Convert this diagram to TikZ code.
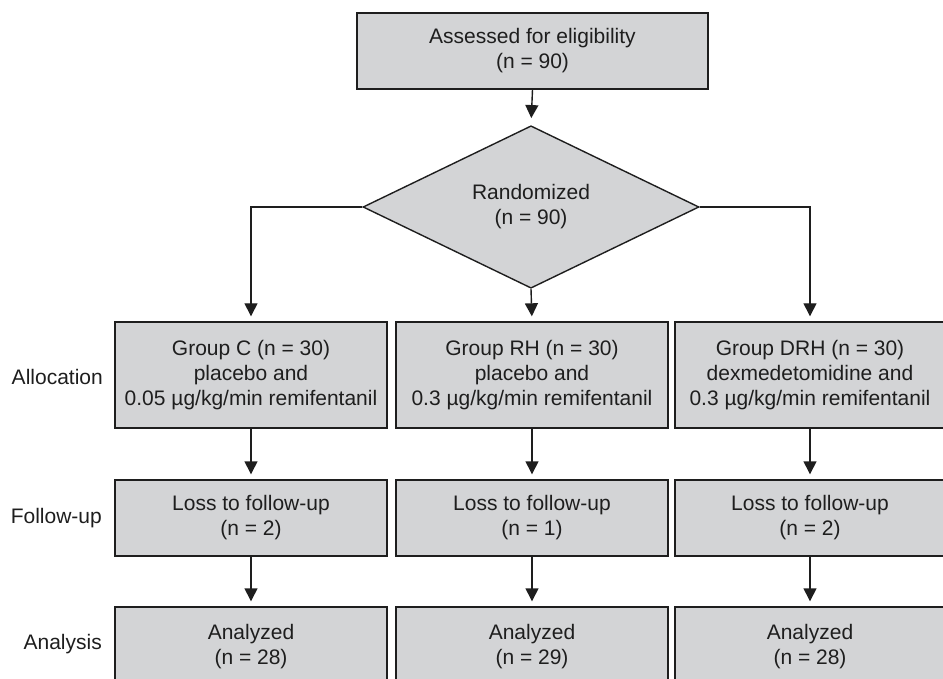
\documentclass[tikz,border=0pt]{standalone}
\usepackage{fontspec}
\setmainfont{Liberation Sans}
\usetikzlibrary{shapes.geometric,arrows.meta}
\definecolor{boxgray}{RGB}{211,212,214}
\definecolor{inkc}{RGB}{30,30,30}
\begin{document}
\begin{tikzpicture}[x=1pt,y=-1pt,
  font=\fontsize{21}{25}\selectfont,
  box/.style={draw=inkc,fill=boxgray,line width=1.4pt,align=center,inner sep=0pt,text=inkc},
  lab/.style={anchor=east,text=inkc,inner sep=0pt},
  arr/.style={line width=1.4pt,draw=inkc,-{Triangle[width=13pt,length=13pt]},shorten >=5pt}]
\useasboundingbox (0,0) rectangle (943,679);
\clip (0,0) rectangle (943,679);
\node[box,minimum width=351pt,minimum height=76pt] (top) at (532.5,51) {Assessed for eligibility\\(n = 90)};
\node[box,shape=diamond,minimum width=336pt,minimum height=127pt] (dia) at (531,207) {Randomized\\(n = 90)};
\node[box,minimum width=272pt,minimum height=106pt] (c) at (251,375) {Group C (n = 30)\\placebo and\\0.05 µg/kg/min remifentanil};
\node[box,minimum width=272pt,minimum height=106pt] (rh) at (532,375) {Group RH (n = 30)\\placebo and\\0.3 µg/kg/min remifentanil};
\node[box,minimum width=270pt,minimum height=106pt] (drh) at (810,375) {Group DRH (n = 30)\\dexmedetomidine and\\0.3 µg/kg/min remifentanil};
\node[box,minimum width=272pt,minimum height=76pt] (cf) at (251,518) {Loss to follow-up\\(n = 2)};
\node[box,minimum width=272pt,minimum height=76pt] (rhf) at (532,518) {Loss to follow-up\\(n = 1)};
\node[box,minimum width=270pt,minimum height=76pt] (drhf) at (810,518) {Loss to follow-up\\(n = 2)};
\node[box,minimum width=272pt,minimum height=80pt] (ca) at (251,647) {Analyzed\\(n = 28)};
\node[box,minimum width=272pt,minimum height=80pt] (rha) at (532,647) {Analyzed\\(n = 29)};
\node[box,minimum width=270pt,minimum height=80pt] (drha) at (810,647) {Analyzed\\(n = 28)};
\node[lab] (l1) at (103,377) {Allocation};
\node[lab] (l2) at (102,518) {Follow-up};
\node[lab] (l3) at (102,644) {Analysis};
\draw[arr,shorten >=7pt] (top.south) -- (dia.north);
\draw[arr] (dia.west) -| (c.north);
\draw[arr] (dia.south) -- (rh.north);
\draw[arr] (dia.east) -| (drh.north);
\draw[arr] (c.south) -- (cf.north);
\draw[arr] (rh.south) -- (rhf.north);
\draw[arr] (drh.south) -- (drhf.north);
\draw[arr] (cf.south) -- (ca.north);
\draw[arr] (rhf.south) -- (rha.north);
\draw[arr] (drhf.south) -- (drha.north);
\end{tikzpicture}
\end{document}
